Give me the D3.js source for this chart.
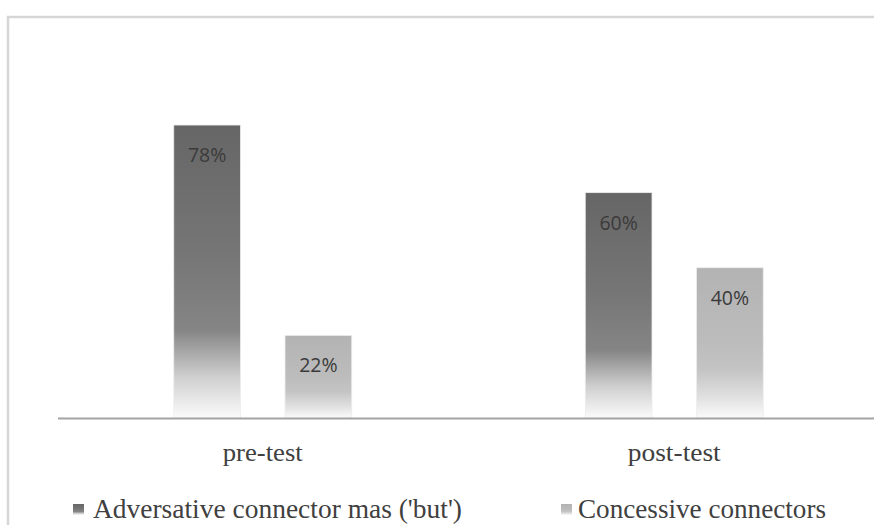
<!DOCTYPE html>
<html>
<head>
<meta charset="utf-8">
<script src="https://cdn.jsdelivr.net/npm/d3@7"></script>
<style>
  html, body { margin: 0; padding: 0; background: #ffffff; }
  svg { display: block; }
</style>
</head>
<body>
<svg id="chart" width="874" height="525"></svg>
<script>
// Share of connector types used, before and after the intervention
const categories = ["pre-test", "post-test"];
const seriesNames = ["Adversative connector mas ('but')", "Concessive connectors"];
const adversative = [78, 60];
const concessive = [22, 40];

const svg = d3.select("#chart");
const W = 874, H = 525;

// chart area frame (light grey, open on the right and bottom)
svg.append("path")
  .attr("d", `M8,${H} L8,17 L${W},17`)
  .attr("fill", "none")
  .attr("stroke", "#d6d6d6")
  .attr("stroke-width", 2.5);

const baseY = 418;
const y = d3.scaleLinear().domain([0, 100]).range([baseY, 42.4]);

const x0 = d3.scaleBand().domain(categories).range([57, 880]).paddingInner(0).paddingOuter(0);
const groupW = 178;
const x1 = d3.scaleBand().domain(seriesNames)
  .range([(x0.bandwidth() - groupW) / 2, (x0.bandwidth() + groupW) / 2])
  .paddingInner(0.4);

// vertical gradients that fade to white toward the baseline
const defs = svg.append("defs");
const fills = [
  { id: "gDark", stops: [["0", "#666666"], ["0.45", "#767676"], ["0.7", "#858585"], ["0.86", "#cfcfcf"], ["1", "#fbfbfb"]] },
  { id: "gLight", stops: [["0", "#b3b3b3"], ["0.5", "#bcbcbc"], ["0.68", "#c4c4c4"], ["0.86", "#e0e0e0"], ["1", "#fbfbfb"]] }
];
fills.forEach(f => {
  const g = defs.append("linearGradient").attr("id", f.id)
    .attr("x1", 0).attr("y1", 0).attr("x2", 0).attr("y2", 1);
  f.stops.forEach(s => g.append("stop").attr("offset", s[0]).attr("stop-color", s[1]));
});
const fillFor = ["url(#gDark)", "url(#gLight)"];

const rows = categories.map((c, i) => ({
  cat: c,
  vals: [
    { name: seriesNames[0], v: adversative[i], k: 0 },
    { name: seriesNames[1], v: concessive[i], k: 1 }
  ]
}));

const groups = svg.selectAll("g.grp").data(rows).enter().append("g")
  .attr("class", "grp")
  .attr("transform", d => `translate(${x0(d.cat)},0)`);

groups.selectAll("rect").data(d => d.vals).enter().append("rect")
  .attr("x", d => x1(d.name))
  .attr("y", d => y(d.v))
  .attr("width", x1.bandwidth())
  .attr("height", d => baseY - y(d.v))
  .attr("fill", d => fillFor[d.k])
  .attr("stroke", "#ededed")
  .attr("stroke-width", 0.8);

groups.selectAll("text.val").data(d => d.vals).enter().append("text")
  .attr("class", "val")
  .attr("x", d => x1(d.name) + x1.bandwidth() / 2)
  .attr("y", d => y(d.v) + 37)
  .attr("text-anchor", "middle")
  .attr("font-family", "'Open Sans', 'Liberation Sans', sans-serif")
  .attr("font-size", 19.5)
  .attr("fill", "#3a3a3a")
  .text(d => d.v + "%");

// category axis
const axis = svg.append("g").attr("transform", `translate(0,${baseY})`)
  .call(d3.axisBottom(x0).tickSize(0).tickPadding(0));
axis.select(".domain").attr("stroke", "#a3a3a3").attr("stroke-width", 2.2)
  .attr("d", `M58,0.5H${W}`);
axis.selectAll(".tick text")
  .attr("y", 43)
  .attr("dy", 0)
  .attr("font-family", "'Liberation Serif', 'Times New Roman', serif")
  .attr("font-size", 26)
  .attr("fill", "#404040")
  .attr("textLength", (d, i) => [80, 93][i])
  .attr("lengthAdjust", "spacingAndGlyphs");

// legend
const legendItems = [
  { name: seriesNames[0], fill: "url(#gDark)", mx: 73, tx: 93, tl: 369 },
  { name: seriesNames[1], fill: "url(#gLight)", mx: 561, tx: 578, tl: 248 }
];
const lg = svg.append("g");
legendItems.forEach(it => {
  lg.append("rect").attr("x", it.mx).attr("y", 504).attr("width", 11).attr("height", 11)
    .attr("fill", it.fill);
  lg.append("text").attr("x", it.tx).attr("y", 518)
    .attr("font-family", "'Liberation Serif', 'Times New Roman', serif")
    .attr("font-size", 27)
    .attr("fill", "#404040")
    .attr("textLength", it.tl)
    .attr("lengthAdjust", "spacingAndGlyphs")
    .text(it.name);
});
</script>
</body>
</html>
